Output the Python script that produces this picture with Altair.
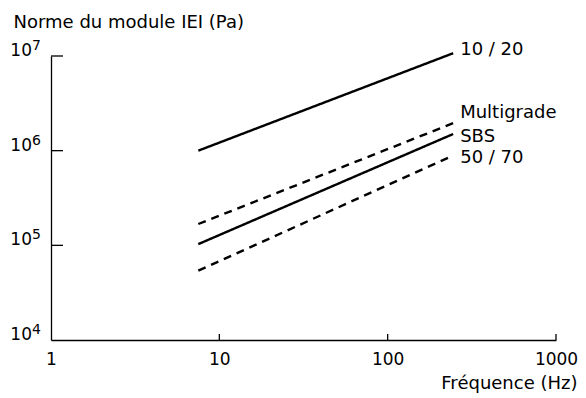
import altair as alt
import pandas as pd

# ---- data ----
series = ["10 / 20", "Multigrade", "SBS", "50 / 70"]
style = ["solid", "dashed", "solid", "dashed"]
freq_start = [7.5, 7.5, 7.5, 7.5]
freq_end = [245, 245, 245, 245]
mod_start = [1.0e6, 1.68e5, 1.03e5, 5.4e4]
mod_end = [1.07e7, 1.95e6, 1.5e6, 8.9e5]

x_ticks = [1, 10, 100, 1000]
y_exps = [4, 5, 6, 7]

FONT = "DejaVu Sans"
W, H = 505, 284
LEFT, TOP = 43, 48

rows = []
for s, st, f0, f1, m0, m1 in zip(series, style, freq_start, freq_end, mod_start, mod_end):
    rows.append({"series": s, "style": st, "f": f0, "m": m0, "end": False})
    rows.append({"series": s, "style": st, "f": f1, "m": m1, "end": True})
df = pd.DataFrame(rows)

xs = alt.Scale(type="log", domain=[1, 1000], nice=False)
ys = alt.Scale(type="log", domain=[1e4, 1e7], nice=False)

lines = alt.Chart(df).mark_line(color="black", strokeWidth=2.4).encode(
    x=alt.X("f:Q", scale=xs,
            axis=alt.Axis(values=x_ticks, format="d", grid=False, ticks=False,
                          labelFont=FONT, labelFontSize=17, labelColor="black",
                          labelPadding=11, labelFlush=False,
                          domainColor="black", domainWidth=1.3,
                          title="Fréquence (Hz)", titleFont=FONT, titleFontSize=18,
                          titleFontWeight="normal", titleColor="black",
                          titleAlign="right", titleAnchor="end",
                          titleX=570 - LEFT - 1, titleY=43, titleBaseline="middle")),
    y=alt.Y("m:Q", scale=ys,
            axis=alt.Axis(values=[10 ** e for e in y_exps], grid=False, ticks=False,
                          labels=False, domainColor="black", domainWidth=1.3,
                          title="Norme du module IEI (Pa)", titleFont=FONT,
                          titleFontSize=18, titleFontWeight="normal",
                          titleColor="black", titleAngle=0, titleAlign="left",
                          titleX=-38, titleY=-34, titleBaseline="middle")),
    detail="series:N",
    strokeDash=alt.StrokeDash("style:N",
                              scale=alt.Scale(domain=["solid", "dashed"],
                                              range=[[1, 0], [8, 6]]),
                              legend=None),
)

ends = df[df["end"]]
label_dy = {"10 / 20": -3, "Multigrade": -10, "SBS": 3, "50 / 70": 3}
label_layers = []
for s in series:
    label_layers.append(
        alt.Chart(ends[ends["series"] == s]).mark_text(
            align="left", baseline="middle", dx=7, dy=label_dy[s],
            font=FONT, fontSize=18, color="black"
        ).encode(x=alt.X("f:Q", scale=xs), y=alt.Y("m:Q", scale=ys), text="series:N")
    )

ydf = pd.DataFrame({"e": y_exps, "v": [10.0 ** e for e in y_exps],
                    "exp": [str(e) for e in y_exps]})
ytick_df = ydf[ydf["e"] > 4]
xtick_df = pd.DataFrame({"f": [t for t in x_ticks if t > 1]})

yticks = alt.Chart(ytick_df).mark_rule(color="black", strokeWidth=1.3).encode(
    y=alt.Y("v:Q", scale=ys), x=alt.value(0), x2=alt.value(12)
)
xticks = alt.Chart(xtick_df).mark_rule(color="black", strokeWidth=1.3).encode(
    x=alt.X("f:Q", scale=xs), y=alt.value(H), y2=alt.value(H - 6)
)
ybase = alt.Chart(ydf).mark_text(
    align="right", baseline="alphabetic", font=FONT, fontSize=17, color="black"
).encode(y=alt.Y("v:Q", scale=ys), x=alt.value(-19), text=alt.value("10"))
yexp = alt.Chart(ydf).mark_text(
    align="left", baseline="alphabetic", dy=-6, font=FONT, fontSize=14, color="black"
).encode(y=alt.Y("v:Q", scale=ys), x=alt.value(-19), text="exp:N")

chart = alt.layer(lines, *label_layers, yticks, xticks, ybase, yexp).properties(
    width=W, height=H,
    autosize=alt.AutoSizeParams(type="none"),
    padding={"left": LEFT, "top": TOP, "right": 570 - LEFT - W, "bottom": 56},
    background="white",
).configure_view(stroke=None)

chart.save("out.html", embed_options={"renderer": "svg", "actions": False})
